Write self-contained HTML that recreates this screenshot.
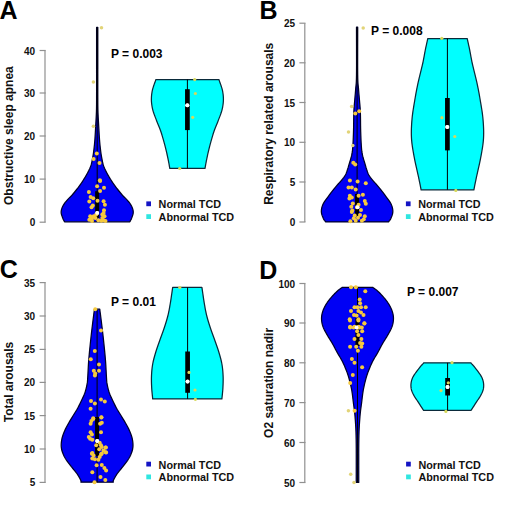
<!DOCTYPE html>
<html><head><meta charset="utf-8"><style>
html,body{margin:0;padding:0;background:#fff;width:520px;height:520px;overflow:hidden;}
svg{display:block;}
text{font-family:"Liberation Sans",sans-serif;font-weight:bold;}
</style></head><body><svg width="520" height="520" viewBox="0 0 520 520"><path d="M97.80,27.30 L97.80,31.37 L97.80,35.42 L97.80,39.46 L97.80,43.51 L97.80,47.57 L97.80,51.66 L97.80,55.80 L97.80,60.00 L97.80,64.39 L97.80,69.03 L97.79,73.79 L97.79,78.54 L97.79,83.17 L97.79,87.53 L97.79,91.52 L97.80,95.00 L97.81,97.92 L97.81,100.38 L97.82,102.48 L97.83,104.31 L97.85,105.98 L97.87,107.59 L97.90,109.23 L97.95,111.00 L98.01,112.84 L98.08,114.62 L98.16,116.35 L98.25,118.06 L98.35,119.76 L98.45,121.48 L98.55,123.22 L98.65,125.00 L98.75,126.86 L98.86,128.80 L98.97,130.77 L99.08,132.75 L99.20,134.70 L99.31,136.58 L99.43,138.36 L99.55,140.00 L99.67,141.51 L99.79,142.91 L99.91,144.23 L100.04,145.48 L100.16,146.67 L100.29,147.81 L100.42,148.91 L100.55,150.00 L100.68,151.03 L100.80,151.98 L100.92,152.87 L101.04,153.73 L101.17,154.58 L101.31,155.44 L101.47,156.34 L101.65,157.30 L101.84,158.32 L102.04,159.38 L102.24,160.46 L102.46,161.57 L102.71,162.68 L102.98,163.80 L103.29,164.91 L103.65,166.00 L104.05,167.08 L104.50,168.16 L104.99,169.24 L105.50,170.32 L106.04,171.39 L106.60,172.47 L107.17,173.54 L107.75,174.60 L108.35,175.68 L108.99,176.77 L109.65,177.87 L110.33,178.96 L111.01,180.03 L111.68,181.07 L112.33,182.07 L112.95,183.00 L113.53,183.86 L114.09,184.67 L114.64,185.43 L115.17,186.15 L115.70,186.86 L116.23,187.56 L116.78,188.27 L117.35,189.00 L117.93,189.75 L118.52,190.50 L119.12,191.26 L119.73,192.01 L120.34,192.76 L120.96,193.51 L121.60,194.26 L122.25,195.00 L122.93,195.74 L123.64,196.47 L124.37,197.19 L125.11,197.92 L125.84,198.64 L126.55,199.36 L127.23,200.08 L127.85,200.80 L128.44,201.52 L129.00,202.23 L129.54,202.94 L130.06,203.65 L130.54,204.36 L130.98,205.07 L131.39,205.78 L131.75,206.50 L132.07,207.22 L132.37,207.94 L132.62,208.67 L132.84,209.39 L133.02,210.12 L133.15,210.85 L133.23,211.57 L133.25,212.30 L133.20,213.04 L133.07,213.80 L132.89,214.57 L132.66,215.33 L132.40,216.08 L132.14,216.80 L131.88,217.48 L131.65,218.10 L131.43,218.66 L131.21,219.17 L130.99,219.64 L130.76,220.08 L130.53,220.50 L130.30,220.92 L130.08,221.35 L129.85,221.80 L64.55,221.80 L64.32,221.35 L64.10,220.92 L63.87,220.50 L63.64,220.08 L63.41,219.64 L63.19,219.17 L62.97,218.66 L62.75,218.10 L62.52,217.48 L62.26,216.80 L62.00,216.08 L61.74,215.33 L61.51,214.57 L61.33,213.80 L61.20,213.04 L61.15,212.30 L61.17,211.57 L61.25,210.85 L61.38,210.12 L61.56,209.39 L61.78,208.67 L62.03,207.94 L62.33,207.22 L62.65,206.50 L63.01,205.78 L63.42,205.07 L63.86,204.36 L64.34,203.65 L64.86,202.94 L65.40,202.23 L65.96,201.52 L66.55,200.80 L67.17,200.08 L67.85,199.36 L68.56,198.64 L69.29,197.92 L70.03,197.19 L70.76,196.47 L71.47,195.74 L72.15,195.00 L72.80,194.26 L73.44,193.51 L74.06,192.76 L74.67,192.01 L75.28,191.26 L75.88,190.50 L76.47,189.75 L77.05,189.00 L77.62,188.27 L78.17,187.56 L78.70,186.86 L79.23,186.15 L79.76,185.43 L80.31,184.67 L80.87,183.86 L81.45,183.00 L82.07,182.07 L82.72,181.07 L83.39,180.03 L84.07,178.96 L84.75,177.87 L85.41,176.77 L86.05,175.68 L86.65,174.60 L87.23,173.54 L87.80,172.47 L88.36,171.39 L88.90,170.32 L89.41,169.24 L89.90,168.16 L90.35,167.08 L90.75,166.00 L91.11,164.91 L91.42,163.80 L91.69,162.68 L91.94,161.57 L92.16,160.46 L92.36,159.38 L92.56,158.32 L92.75,157.30 L92.93,156.34 L93.09,155.44 L93.23,154.58 L93.36,153.73 L93.48,152.87 L93.60,151.98 L93.72,151.03 L93.85,150.00 L93.98,148.91 L94.11,147.81 L94.24,146.67 L94.36,145.48 L94.49,144.23 L94.61,142.91 L94.73,141.51 L94.85,140.00 L94.97,138.36 L95.09,136.58 L95.20,134.70 L95.32,132.75 L95.43,130.77 L95.54,128.80 L95.65,126.86 L95.75,125.00 L95.85,123.22 L95.95,121.48 L96.05,119.76 L96.15,118.06 L96.24,116.35 L96.32,114.62 L96.39,112.84 L96.45,111.00 L96.50,109.23 L96.53,107.59 L96.55,105.98 L96.57,104.31 L96.58,102.48 L96.59,100.38 L96.59,97.92 L96.60,95.00 L96.61,91.52 L96.61,87.53 L96.61,83.17 L96.61,78.54 L96.61,73.79 L96.60,69.03 L96.60,64.39 L96.60,60.00 L96.60,55.80 L96.60,51.66 L96.60,47.57 L96.60,43.51 L96.60,39.46 L96.60,35.42 L96.60,31.37 L96.60,27.30 Z" fill="#0000f5" stroke="#00002a" stroke-width="1.25" stroke-linejoin="round"/><path d="M218.90,79.50 L219.35,80.84 L219.83,82.19 L220.32,83.54 L220.81,84.89 L221.27,86.24 L221.70,87.57 L222.08,88.90 L222.40,90.20 L222.66,91.48 L222.88,92.75 L223.07,94.00 L223.21,95.24 L223.32,96.47 L223.38,97.71 L223.41,98.95 L223.40,100.20 L223.35,101.46 L223.25,102.72 L223.11,103.98 L222.94,105.24 L222.73,106.51 L222.48,107.77 L222.21,109.04 L221.90,110.30 L221.55,111.56 L221.16,112.83 L220.72,114.09 L220.26,115.35 L219.77,116.61 L219.28,117.87 L218.78,119.14 L218.30,120.40 L217.81,121.66 L217.31,122.93 L216.79,124.19 L216.27,125.45 L215.75,126.71 L215.25,127.98 L214.76,129.24 L214.30,130.50 L213.87,131.76 L213.45,133.03 L213.05,134.29 L212.66,135.56 L212.29,136.82 L211.92,138.08 L211.56,139.34 L211.20,140.60 L210.85,141.85 L210.51,143.10 L210.17,144.35 L209.84,145.60 L209.52,146.85 L209.21,148.10 L208.90,149.35 L208.60,150.60 L208.30,151.87 L208.00,153.17 L207.71,154.49 L207.42,155.79 L207.15,157.08 L206.88,158.34 L206.63,159.55 L206.40,160.70 L206.19,161.78 L205.99,162.79 L205.82,163.76 L205.65,164.70 L205.49,165.62 L205.33,166.53 L205.17,167.45 L205.00,168.40 L169.80,168.40 L169.63,167.45 L169.47,166.53 L169.31,165.62 L169.15,164.70 L168.98,163.76 L168.81,162.79 L168.61,161.78 L168.40,160.70 L168.17,159.55 L167.92,158.34 L167.65,157.08 L167.38,155.79 L167.09,154.49 L166.80,153.17 L166.50,151.87 L166.20,150.60 L165.90,149.35 L165.59,148.10 L165.28,146.85 L164.96,145.60 L164.63,144.35 L164.29,143.10 L163.95,141.85 L163.60,140.60 L163.24,139.34 L162.88,138.08 L162.51,136.82 L162.14,135.56 L161.75,134.29 L161.35,133.03 L160.93,131.76 L160.50,130.50 L160.04,129.24 L159.55,127.98 L159.05,126.71 L158.53,125.45 L158.01,124.19 L157.49,122.93 L156.99,121.66 L156.50,120.40 L156.02,119.14 L155.52,117.87 L155.03,116.61 L154.54,115.35 L154.08,114.09 L153.64,112.83 L153.25,111.56 L152.90,110.30 L152.59,109.04 L152.32,107.77 L152.07,106.51 L151.86,105.24 L151.69,103.98 L151.55,102.72 L151.45,101.46 L151.40,100.20 L151.39,98.95 L151.42,97.71 L151.48,96.47 L151.59,95.24 L151.73,94.00 L151.92,92.75 L152.14,91.48 L152.40,90.20 L152.72,88.90 L153.10,87.57 L153.53,86.24 L153.99,84.89 L154.48,83.54 L154.97,82.19 L155.45,80.84 L155.90,79.50 Z" fill="#00ffff" stroke="#0a2a3a" stroke-width="1.25" stroke-linejoin="round"/><line x1="97.2" y1="27.5" x2="97.2" y2="221.8" stroke="#000" stroke-width="1"/><rect x="95.15" y="191.2" width="4.1" height="26.80000000000001" fill="#000"/><circle cx="97.2" cy="212.9" r="2" fill="#fff"/><line x1="187.4" y1="79.5" x2="187.4" y2="168.4" stroke="#000" stroke-width="1"/><rect x="185.05" y="89.2" width="4.7" height="40.89999999999999" fill="#000"/><circle cx="187.4" cy="105.3" r="2" fill="#fff"/><line x1="45" y1="50.5" x2="45" y2="222.2" stroke="#909090" stroke-width="1.2"/><line x1="39.6" y1="222.2" x2="45.7" y2="222.2" stroke="#909090" stroke-width="1.2"/><text x="35.2" y="226.2" text-anchor="end" font-size="10" font-family="Liberation Sans, sans-serif" font-weight="bold" fill="#111">0</text><line x1="39.6" y1="179.1" x2="45.7" y2="179.1" stroke="#909090" stroke-width="1.2"/><text x="35.2" y="183.1" text-anchor="end" font-size="10" font-family="Liberation Sans, sans-serif" font-weight="bold" fill="#111">10</text><line x1="39.6" y1="136" x2="45.7" y2="136" stroke="#909090" stroke-width="1.2"/><text x="35.2" y="140.0" text-anchor="end" font-size="10" font-family="Liberation Sans, sans-serif" font-weight="bold" fill="#111">20</text><line x1="39.6" y1="93" x2="45.7" y2="93" stroke="#909090" stroke-width="1.2"/><text x="35.2" y="97.0" text-anchor="end" font-size="10" font-family="Liberation Sans, sans-serif" font-weight="bold" fill="#111">30</text><line x1="39.6" y1="50.5" x2="45.7" y2="50.5" stroke="#909090" stroke-width="1.2"/><text x="35.2" y="54.5" text-anchor="end" font-size="10" font-family="Liberation Sans, sans-serif" font-weight="bold" fill="#111">40</text><text transform="translate(13.4,135.6) rotate(-90)" text-anchor="middle" font-size="12" font-family="Liberation Sans, sans-serif" font-weight="bold" fill="#111">Obstructive sleep apnea</text><text x="-0.5" y="18.6" font-size="25" font-family="Liberation Sans, sans-serif" font-weight="bold" fill="#000">A</text><text x="111" y="58" font-size="12" font-family="Liberation Sans, sans-serif" font-weight="bold" fill="#000">P = 0.003</text><rect x="146.3" y="201.4" width="4.7" height="4.8" fill="#1414c4"/><rect x="146.3" y="214.2" width="4.7" height="4.8" fill="#30e6e0"/><text x="158.6" y="208.4" font-size="10.8" font-family="Liberation Sans, sans-serif" font-weight="bold" fill="#111">Normal TCD</text><text x="158.6" y="221.1" font-size="10.8" font-family="Liberation Sans, sans-serif" font-weight="bold" fill="#111">Abnormal TCD</text><path d="M357.70,27.20 L357.69,33.40 L357.68,39.94 L357.66,46.60 L357.65,53.20 L357.64,59.54 L357.64,65.41 L357.66,70.63 L357.70,75.00 L357.77,78.41 L357.85,80.99 L357.95,82.94 L358.07,84.41 L358.19,85.60 L358.31,86.68 L358.44,87.82 L358.55,89.20 L358.66,90.70 L358.77,92.11 L358.88,93.45 L359.00,94.74 L359.11,96.01 L359.22,97.30 L359.34,98.62 L359.45,100.00 L359.57,101.40 L359.69,102.77 L359.81,104.15 L359.94,105.55 L360.06,107.01 L360.17,108.55 L360.27,110.20 L360.35,112.00 L360.41,113.99 L360.46,116.16 L360.49,118.47 L360.52,120.85 L360.54,123.25 L360.57,125.61 L360.60,127.88 L360.65,130.00 L360.71,132.01 L360.77,133.97 L360.84,135.87 L360.91,137.73 L360.98,139.51 L361.06,141.22 L361.15,142.85 L361.25,144.40 L361.34,145.83 L361.43,147.14 L361.52,148.35 L361.62,149.49 L361.73,150.60 L361.87,151.71 L362.04,152.83 L362.25,154.00 L362.51,155.23 L362.82,156.50 L363.17,157.78 L363.54,159.06 L363.92,160.31 L364.29,161.51 L364.64,162.65 L364.95,163.70 L365.23,164.66 L365.48,165.54 L365.72,166.37 L365.94,167.14 L366.17,167.88 L366.39,168.60 L366.61,169.30 L366.85,170.00 L367.08,170.69 L367.31,171.34 L367.52,171.97 L367.74,172.58 L367.98,173.18 L368.24,173.78 L368.52,174.38 L368.85,175.00 L369.22,175.63 L369.63,176.26 L370.06,176.89 L370.52,177.53 L370.99,178.15 L371.48,178.78 L371.97,179.39 L372.45,180.00 L372.94,180.59 L373.44,181.17 L373.95,181.74 L374.47,182.31 L374.99,182.87 L375.51,183.44 L376.03,184.01 L376.55,184.60 L377.07,185.20 L377.59,185.81 L378.11,186.42 L378.63,187.04 L379.15,187.66 L379.66,188.28 L380.16,188.90 L380.65,189.50 L381.10,190.06 L381.51,190.57 L381.90,191.06 L382.29,191.56 L382.69,192.09 L383.14,192.69 L383.66,193.38 L384.25,194.20 L384.97,195.18 L385.82,196.30 L386.75,197.52 L387.71,198.81 L388.65,200.12 L389.54,201.42 L390.32,202.66 L390.95,203.80 L391.44,204.86 L391.85,205.88 L392.18,206.87 L392.44,207.82 L392.63,208.76 L392.75,209.68 L392.83,210.59 L392.85,211.50 L392.80,212.41 L392.65,213.34 L392.44,214.26 L392.17,215.16 L391.87,216.02 L391.55,216.85 L391.24,217.61 L390.95,218.30 L390.67,218.90 L390.39,219.43 L390.09,219.88 L389.78,220.30 L389.47,220.69 L389.16,221.08 L388.85,221.47 L388.55,221.90 L325.65,221.90 L325.35,221.47 L325.04,221.08 L324.73,220.69 L324.42,220.30 L324.11,219.88 L323.81,219.43 L323.53,218.90 L323.25,218.30 L322.96,217.61 L322.65,216.85 L322.33,216.02 L322.03,215.16 L321.76,214.26 L321.55,213.34 L321.40,212.41 L321.35,211.50 L321.37,210.59 L321.45,209.68 L321.57,208.76 L321.76,207.82 L322.02,206.87 L322.35,205.88 L322.76,204.86 L323.25,203.80 L323.88,202.66 L324.66,201.42 L325.55,200.12 L326.49,198.81 L327.45,197.52 L328.38,196.30 L329.23,195.18 L329.95,194.20 L330.54,193.38 L331.06,192.69 L331.51,192.09 L331.91,191.56 L332.30,191.06 L332.69,190.57 L333.10,190.06 L333.55,189.50 L334.04,188.90 L334.54,188.28 L335.05,187.66 L335.57,187.04 L336.09,186.42 L336.61,185.81 L337.13,185.20 L337.65,184.60 L338.17,184.01 L338.69,183.44 L339.21,182.87 L339.73,182.31 L340.25,181.74 L340.76,181.17 L341.26,180.59 L341.75,180.00 L342.23,179.39 L342.72,178.78 L343.21,178.15 L343.68,177.53 L344.14,176.89 L344.57,176.26 L344.98,175.63 L345.35,175.00 L345.68,174.38 L345.96,173.78 L346.22,173.18 L346.46,172.58 L346.68,171.97 L346.89,171.34 L347.12,170.69 L347.35,170.00 L347.59,169.30 L347.81,168.60 L348.03,167.88 L348.26,167.14 L348.48,166.37 L348.72,165.54 L348.97,164.66 L349.25,163.70 L349.56,162.65 L349.91,161.51 L350.28,160.31 L350.66,159.06 L351.03,157.78 L351.38,156.50 L351.69,155.23 L351.95,154.00 L352.16,152.83 L352.33,151.71 L352.47,150.60 L352.58,149.49 L352.68,148.35 L352.77,147.14 L352.86,145.83 L352.95,144.40 L353.05,142.85 L353.14,141.22 L353.22,139.51 L353.29,137.73 L353.36,135.87 L353.43,133.97 L353.49,132.01 L353.55,130.00 L353.60,127.88 L353.63,125.61 L353.66,123.25 L353.68,120.85 L353.71,118.47 L353.74,116.16 L353.79,113.99 L353.85,112.00 L353.93,110.20 L354.03,108.55 L354.14,107.01 L354.26,105.55 L354.39,104.15 L354.51,102.77 L354.63,101.40 L354.75,100.00 L354.86,98.62 L354.98,97.30 L355.09,96.01 L355.20,94.74 L355.32,93.45 L355.43,92.11 L355.54,90.70 L355.65,89.20 L355.76,87.82 L355.89,86.68 L356.01,85.60 L356.13,84.41 L356.25,82.94 L356.35,80.99 L356.43,78.41 L356.50,75.00 L356.54,70.63 L356.56,65.41 L356.56,59.54 L356.55,53.20 L356.54,46.60 L356.52,39.94 L356.51,33.40 L356.50,27.20 Z" fill="#0000f5" stroke="#00002a" stroke-width="1.25" stroke-linejoin="round"/><path d="M467.20,38.50 L467.51,39.92 L467.82,41.33 L468.13,42.72 L468.44,44.12 L468.76,45.54 L469.07,46.98 L469.38,48.47 L469.70,50.00 L470.01,51.55 L470.30,53.10 L470.58,54.67 L470.87,56.27 L471.17,57.93 L471.51,59.68 L471.88,61.53 L472.30,63.50 L472.79,65.64 L473.34,67.94 L473.94,70.37 L474.56,72.86 L475.18,75.39 L475.79,77.90 L476.37,80.35 L476.90,82.70 L477.38,84.94 L477.83,87.11 L478.25,89.24 L478.66,91.35 L479.06,93.46 L479.44,95.59 L479.82,97.76 L480.20,100.00 L480.59,102.31 L480.99,104.66 L481.39,107.06 L481.78,109.48 L482.14,111.91 L482.47,114.35 L482.76,116.78 L483.00,119.20 L483.20,121.61 L483.36,124.02 L483.50,126.43 L483.60,128.85 L483.66,131.27 L483.66,133.68 L483.61,136.09 L483.50,138.50 L483.32,140.90 L483.06,143.31 L482.75,145.71 L482.39,148.11 L482.00,150.50 L481.58,152.90 L481.14,155.30 L480.70,157.70 L480.23,160.14 L479.71,162.65 L479.16,165.18 L478.59,167.69 L478.02,170.16 L477.47,172.54 L476.96,174.80 L476.50,176.90 L476.10,178.81 L475.74,180.57 L475.41,182.20 L475.10,183.74 L474.80,185.24 L474.51,186.72 L474.21,188.23 L473.90,189.80 L421.10,189.80 L420.79,188.23 L420.49,186.72 L420.20,185.24 L419.90,183.74 L419.59,182.20 L419.26,180.57 L418.90,178.81 L418.50,176.90 L418.04,174.80 L417.53,172.54 L416.98,170.16 L416.41,167.69 L415.84,165.18 L415.29,162.65 L414.77,160.14 L414.30,157.70 L413.86,155.30 L413.42,152.90 L413.00,150.50 L412.61,148.11 L412.25,145.71 L411.94,143.31 L411.68,140.90 L411.50,138.50 L411.39,136.09 L411.34,133.68 L411.34,131.27 L411.40,128.85 L411.50,126.43 L411.64,124.02 L411.80,121.61 L412.00,119.20 L412.24,116.78 L412.53,114.35 L412.86,111.91 L413.22,109.48 L413.61,107.06 L414.01,104.66 L414.41,102.31 L414.80,100.00 L415.18,97.76 L415.56,95.59 L415.94,93.46 L416.34,91.35 L416.75,89.24 L417.17,87.11 L417.62,84.94 L418.10,82.70 L418.63,80.35 L419.21,77.90 L419.82,75.39 L420.44,72.86 L421.06,70.37 L421.66,67.94 L422.21,65.64 L422.70,63.50 L423.12,61.53 L423.49,59.68 L423.83,57.93 L424.13,56.27 L424.42,54.67 L424.70,53.10 L424.99,51.55 L425.30,50.00 L425.62,48.47 L425.93,46.98 L426.24,45.54 L426.56,44.12 L426.87,42.72 L427.18,41.33 L427.49,39.92 L427.80,38.50 Z" fill="#00ffff" stroke="#0a2a3a" stroke-width="1.25" stroke-linejoin="round"/><line x1="357.1" y1="27.3" x2="357.1" y2="221.8" stroke="#000" stroke-width="1"/><rect x="355.05" y="194" width="4.1" height="23" fill="#000"/><circle cx="357.1" cy="207.2" r="2" fill="#fff"/><line x1="447.4" y1="38.5" x2="447.4" y2="189.8" stroke="#000" stroke-width="1"/><rect x="445.04999999999995" y="98" width="4.7" height="52.400000000000006" fill="#000"/><circle cx="447.4" cy="126.9" r="2" fill="#fff"/><line x1="304.8" y1="23.2" x2="304.8" y2="222" stroke="#909090" stroke-width="1.2"/><line x1="299.40000000000003" y1="222" x2="305.5" y2="222" stroke="#909090" stroke-width="1.2"/><text x="295.2" y="226.0" text-anchor="end" font-size="10" font-family="Liberation Sans, sans-serif" font-weight="bold" fill="#111">0</text><line x1="299.40000000000003" y1="182" x2="305.5" y2="182" stroke="#909090" stroke-width="1.2"/><text x="295.2" y="186.0" text-anchor="end" font-size="10" font-family="Liberation Sans, sans-serif" font-weight="bold" fill="#111">5</text><line x1="299.40000000000003" y1="142.3" x2="305.5" y2="142.3" stroke="#909090" stroke-width="1.2"/><text x="295.2" y="146.3" text-anchor="end" font-size="10" font-family="Liberation Sans, sans-serif" font-weight="bold" fill="#111">10</text><line x1="299.40000000000003" y1="102.5" x2="305.5" y2="102.5" stroke="#909090" stroke-width="1.2"/><text x="295.2" y="106.5" text-anchor="end" font-size="10" font-family="Liberation Sans, sans-serif" font-weight="bold" fill="#111">15</text><line x1="299.40000000000003" y1="62.8" x2="305.5" y2="62.8" stroke="#909090" stroke-width="1.2"/><text x="295.2" y="66.8" text-anchor="end" font-size="10" font-family="Liberation Sans, sans-serif" font-weight="bold" fill="#111">20</text><line x1="299.40000000000003" y1="23.2" x2="305.5" y2="23.2" stroke="#909090" stroke-width="1.2"/><text x="295.2" y="27.2" text-anchor="end" font-size="10" font-family="Liberation Sans, sans-serif" font-weight="bold" fill="#111">25</text><text transform="translate(273.0,123.8) rotate(-90)" text-anchor="middle" font-size="12" font-family="Liberation Sans, sans-serif" font-weight="bold" fill="#111">Respiratory related arousals</text><text x="259.4" y="18.5" font-size="25" font-family="Liberation Sans, sans-serif" font-weight="bold" fill="#000">B</text><text x="371.1" y="34.7" font-size="12" font-family="Liberation Sans, sans-serif" font-weight="bold" fill="#000">P = 0.008</text><rect x="405.90000000000003" y="201.4" width="4.7" height="4.8" fill="#1414c4"/><rect x="405.90000000000003" y="214.2" width="4.7" height="4.8" fill="#30e6e0"/><text x="418.20000000000005" y="208.4" font-size="10.8" font-family="Liberation Sans, sans-serif" font-weight="bold" fill="#111">Normal TCD</text><text x="418.20000000000005" y="221.1" font-size="10.8" font-family="Liberation Sans, sans-serif" font-weight="bold" fill="#111">Abnormal TCD</text><path d="M99.75,309.20 L99.92,310.50 L100.08,311.72 L100.24,312.91 L100.40,314.12 L100.57,315.39 L100.74,316.76 L100.94,318.28 L101.15,320.00 L101.39,321.92 L101.65,324.01 L101.92,326.24 L102.21,328.58 L102.50,331.00 L102.79,333.48 L103.07,335.99 L103.35,338.50 L103.62,341.07 L103.91,343.77 L104.19,346.54 L104.47,349.34 L104.75,352.14 L105.00,354.87 L105.24,357.51 L105.45,360.00 L105.63,362.41 L105.79,364.81 L105.92,367.16 L106.04,369.43 L106.15,371.58 L106.25,373.58 L106.35,375.40 L106.45,377.00 L106.53,378.32 L106.59,379.35 L106.64,380.18 L106.68,380.88 L106.73,381.50 L106.80,382.13 L106.91,382.84 L107.05,383.70 L107.23,384.69 L107.44,385.74 L107.67,386.83 L107.93,387.94 L108.21,389.06 L108.51,390.17 L108.82,391.26 L109.15,392.30 L109.50,393.30 L109.87,394.28 L110.26,395.23 L110.67,396.18 L111.10,397.12 L111.54,398.06 L111.99,399.02 L112.45,400.00 L112.92,401.00 L113.40,402.02 L113.89,403.04 L114.40,404.08 L114.92,405.11 L115.45,406.15 L115.99,407.18 L116.55,408.20 L117.12,409.22 L117.72,410.23 L118.33,411.24 L118.95,412.25 L119.58,413.26 L120.21,414.27 L120.83,415.28 L121.45,416.30 L122.07,417.32 L122.70,418.34 L123.33,419.37 L123.96,420.39 L124.58,421.42 L125.19,422.45 L125.78,423.47 L126.35,424.50 L126.90,425.53 L127.45,426.55 L127.99,427.58 L128.51,428.61 L129.01,429.63 L129.49,430.66 L129.94,431.68 L130.35,432.70 L130.73,433.72 L131.10,434.73 L131.44,435.74 L131.75,436.75 L132.03,437.76 L132.28,438.77 L132.48,439.78 L132.65,440.80 L132.78,441.82 L132.88,442.84 L132.95,443.87 L132.99,444.89 L132.98,445.92 L132.92,446.95 L132.81,447.97 L132.65,449.00 L132.43,450.02 L132.15,451.05 L131.83,452.07 L131.46,453.10 L131.04,454.12 L130.58,455.15 L130.08,456.18 L129.55,457.20 L128.97,458.23 L128.33,459.25 L127.64,460.28 L126.91,461.31 L126.16,462.33 L125.39,463.36 L124.62,464.38 L123.85,465.40 L123.06,466.43 L122.22,467.47 L121.35,468.52 L120.48,469.56 L119.62,470.58 L118.80,471.59 L118.04,472.56 L117.35,473.50 L116.72,474.42 L116.13,475.34 L115.57,476.24 L115.06,477.12 L114.60,477.95 L114.19,478.71 L113.84,479.40 L113.55,480.00 L113.35,480.48 L113.23,480.85 L113.18,481.14 L113.18,481.37 L113.21,481.56 L113.24,481.75 L113.26,481.95 L113.25,482.20 L80.95,482.20 L80.94,481.95 L80.96,481.75 L80.99,481.56 L81.02,481.37 L81.02,481.14 L80.97,480.85 L80.85,480.48 L80.65,480.00 L80.36,479.40 L80.01,478.71 L79.60,477.95 L79.14,477.12 L78.63,476.24 L78.07,475.34 L77.48,474.42 L76.85,473.50 L76.16,472.56 L75.40,471.59 L74.58,470.58 L73.72,469.56 L72.85,468.52 L71.98,467.47 L71.14,466.43 L70.35,465.40 L69.58,464.38 L68.81,463.36 L68.04,462.33 L67.29,461.31 L66.56,460.28 L65.87,459.25 L65.23,458.23 L64.65,457.20 L64.12,456.18 L63.62,455.15 L63.16,454.12 L62.74,453.10 L62.37,452.07 L62.05,451.05 L61.77,450.02 L61.55,449.00 L61.39,447.97 L61.28,446.95 L61.22,445.92 L61.21,444.89 L61.25,443.87 L61.32,442.84 L61.42,441.82 L61.55,440.80 L61.72,439.78 L61.92,438.77 L62.17,437.76 L62.45,436.75 L62.76,435.74 L63.10,434.73 L63.47,433.72 L63.85,432.70 L64.26,431.68 L64.71,430.66 L65.19,429.63 L65.69,428.61 L66.21,427.58 L66.75,426.55 L67.30,425.53 L67.85,424.50 L68.42,423.47 L69.01,422.45 L69.62,421.42 L70.24,420.39 L70.87,419.37 L71.50,418.34 L72.13,417.32 L72.75,416.30 L73.37,415.28 L73.99,414.27 L74.62,413.26 L75.25,412.25 L75.87,411.24 L76.48,410.23 L77.08,409.22 L77.65,408.20 L78.21,407.18 L78.75,406.15 L79.28,405.11 L79.80,404.08 L80.31,403.04 L80.80,402.02 L81.28,401.00 L81.75,400.00 L82.21,399.02 L82.66,398.06 L83.10,397.12 L83.53,396.18 L83.94,395.23 L84.33,394.28 L84.70,393.30 L85.05,392.30 L85.38,391.26 L85.69,390.17 L85.99,389.06 L86.27,387.94 L86.53,386.83 L86.76,385.74 L86.97,384.69 L87.15,383.70 L87.29,382.84 L87.40,382.13 L87.47,381.50 L87.52,380.88 L87.56,380.18 L87.61,379.35 L87.67,378.32 L87.75,377.00 L87.85,375.40 L87.95,373.58 L88.05,371.58 L88.16,369.43 L88.28,367.16 L88.41,364.81 L88.57,362.41 L88.75,360.00 L88.96,357.51 L89.20,354.87 L89.45,352.14 L89.72,349.34 L90.01,346.54 L90.29,343.77 L90.58,341.07 L90.85,338.50 L91.13,335.99 L91.41,333.48 L91.70,331.00 L91.99,328.58 L92.28,326.24 L92.55,324.01 L92.81,321.92 L93.05,320.00 L93.26,318.28 L93.46,316.76 L93.63,315.39 L93.80,314.12 L93.96,312.91 L94.12,311.72 L94.28,310.50 L94.45,309.20 Z" fill="#0000f5" stroke="#00002a" stroke-width="1.25" stroke-linejoin="round"/><path d="M201.90,287.30 L202.21,289.42 L202.53,291.59 L202.84,293.77 L203.16,295.94 L203.47,298.08 L203.78,300.16 L204.09,302.14 L204.40,304.00 L204.70,305.72 L204.98,307.33 L205.25,308.84 L205.53,310.29 L205.82,311.71 L206.12,313.11 L206.44,314.53 L206.80,316.00 L207.19,317.50 L207.60,319.00 L208.03,320.50 L208.48,322.00 L208.95,323.50 L209.42,325.00 L209.91,326.50 L210.40,328.00 L210.91,329.50 L211.43,331.00 L211.97,332.50 L212.52,334.00 L213.07,335.50 L213.62,337.00 L214.17,338.50 L214.70,340.00 L215.23,341.50 L215.76,343.00 L216.30,344.50 L216.82,346.00 L217.34,347.50 L217.85,349.00 L218.34,350.50 L218.80,352.00 L219.25,353.50 L219.69,355.00 L220.12,356.50 L220.53,358.00 L220.92,359.50 L221.28,361.00 L221.61,362.50 L221.90,364.00 L222.15,365.50 L222.37,367.00 L222.55,368.50 L222.71,370.00 L222.84,371.50 L222.94,373.00 L223.03,374.50 L223.10,376.00 L223.15,377.51 L223.17,379.03 L223.16,380.55 L223.14,382.07 L223.10,383.58 L223.04,385.08 L222.97,386.55 L222.90,388.00 L222.81,389.42 L222.71,390.80 L222.58,392.17 L222.45,393.52 L222.31,394.86 L222.17,396.20 L222.03,397.55 L221.90,398.90 L152.70,398.90 L152.57,397.55 L152.43,396.20 L152.29,394.86 L152.15,393.52 L152.02,392.17 L151.89,390.80 L151.79,389.42 L151.70,388.00 L151.63,386.55 L151.56,385.08 L151.50,383.58 L151.46,382.07 L151.44,380.55 L151.43,379.03 L151.45,377.51 L151.50,376.00 L151.57,374.50 L151.66,373.00 L151.76,371.50 L151.89,370.00 L152.05,368.50 L152.23,367.00 L152.45,365.50 L152.70,364.00 L152.99,362.50 L153.32,361.00 L153.68,359.50 L154.07,358.00 L154.48,356.50 L154.91,355.00 L155.35,353.50 L155.80,352.00 L156.26,350.50 L156.75,349.00 L157.26,347.50 L157.78,346.00 L158.30,344.50 L158.84,343.00 L159.37,341.50 L159.90,340.00 L160.43,338.50 L160.98,337.00 L161.53,335.50 L162.08,334.00 L162.63,332.50 L163.17,331.00 L163.69,329.50 L164.20,328.00 L164.69,326.50 L165.18,325.00 L165.65,323.50 L166.12,322.00 L166.57,320.50 L167.00,319.00 L167.41,317.50 L167.80,316.00 L168.16,314.53 L168.48,313.11 L168.78,311.71 L169.07,310.29 L169.35,308.84 L169.62,307.33 L169.90,305.72 L170.20,304.00 L170.51,302.14 L170.82,300.16 L171.13,298.08 L171.44,295.94 L171.76,293.77 L172.07,291.59 L172.39,289.42 L172.70,287.30 Z" fill="#00ffff" stroke="#0a2a3a" stroke-width="1.25" stroke-linejoin="round"/><line x1="97.1" y1="309.2" x2="97.1" y2="482.2" stroke="#000" stroke-width="1"/><rect x="95.05" y="417" width="4.1" height="39" fill="#000"/><circle cx="97.1" cy="441" r="2" fill="#fff"/><line x1="187.6" y1="287.3" x2="187.6" y2="398.9" stroke="#000" stroke-width="1"/><rect x="185.25" y="351.5" width="4.7" height="41.30000000000001" fill="#000"/><circle cx="187.6" cy="381.6" r="2" fill="#fff"/><line x1="45" y1="282.6" x2="45" y2="482.4" stroke="#909090" stroke-width="1.2"/><line x1="39.6" y1="482.4" x2="45.7" y2="482.4" stroke="#909090" stroke-width="1.2"/><text x="35.2" y="486.4" text-anchor="end" font-size="10" font-family="Liberation Sans, sans-serif" font-weight="bold" fill="#111">5</text><line x1="39.6" y1="449" x2="45.7" y2="449" stroke="#909090" stroke-width="1.2"/><text x="35.2" y="453.0" text-anchor="end" font-size="10" font-family="Liberation Sans, sans-serif" font-weight="bold" fill="#111">10</text><line x1="39.6" y1="415.6" x2="45.7" y2="415.6" stroke="#909090" stroke-width="1.2"/><text x="35.2" y="419.6" text-anchor="end" font-size="10" font-family="Liberation Sans, sans-serif" font-weight="bold" fill="#111">15</text><line x1="39.6" y1="382.4" x2="45.7" y2="382.4" stroke="#909090" stroke-width="1.2"/><text x="35.2" y="386.4" text-anchor="end" font-size="10" font-family="Liberation Sans, sans-serif" font-weight="bold" fill="#111">20</text><line x1="39.6" y1="349.4" x2="45.7" y2="349.4" stroke="#909090" stroke-width="1.2"/><text x="35.2" y="353.4" text-anchor="end" font-size="10" font-family="Liberation Sans, sans-serif" font-weight="bold" fill="#111">25</text><line x1="39.6" y1="316" x2="45.7" y2="316" stroke="#909090" stroke-width="1.2"/><text x="35.2" y="320.0" text-anchor="end" font-size="10" font-family="Liberation Sans, sans-serif" font-weight="bold" fill="#111">30</text><line x1="39.6" y1="282.6" x2="45.7" y2="282.6" stroke="#909090" stroke-width="1.2"/><text x="35.2" y="286.6" text-anchor="end" font-size="10" font-family="Liberation Sans, sans-serif" font-weight="bold" fill="#111">35</text><text transform="translate(13.4,382.0) rotate(-90)" text-anchor="middle" font-size="12" font-family="Liberation Sans, sans-serif" font-weight="bold" fill="#111">Total arousals</text><text x="-0.2" y="278.2" font-size="25" font-family="Liberation Sans, sans-serif" font-weight="bold" fill="#000">C</text><text x="111" y="305.8" font-size="12" font-family="Liberation Sans, sans-serif" font-weight="bold" fill="#000">P = 0.01</text><rect x="146.3" y="461.70000000000005" width="4.7" height="4.8" fill="#1414c4"/><rect x="146.3" y="474.5" width="4.7" height="4.8" fill="#30e6e0"/><text x="158.6" y="468.70000000000005" font-size="10.8" font-family="Liberation Sans, sans-serif" font-weight="bold" fill="#111">Normal TCD</text><text x="158.6" y="481.4" font-size="10.8" font-family="Liberation Sans, sans-serif" font-weight="bold" fill="#111">Abnormal TCD</text><path d="M372.65,287.30 L373.35,287.82 L374.03,288.30 L374.70,288.77 L375.37,289.24 L376.06,289.74 L376.78,290.30 L377.54,290.95 L378.35,291.70 L379.24,292.57 L380.21,293.55 L381.24,294.61 L382.28,295.73 L383.32,296.88 L384.33,298.04 L385.29,299.19 L386.15,300.30 L386.95,301.38 L387.71,302.47 L388.43,303.56 L389.11,304.65 L389.74,305.74 L390.33,306.83 L390.87,307.92 L391.35,309.00 L391.78,310.08 L392.17,311.15 L392.51,312.23 L392.81,313.30 L393.05,314.37 L393.24,315.45 L393.37,316.52 L393.45,317.60 L393.47,318.68 L393.43,319.77 L393.34,320.86 L393.20,321.95 L393.01,323.04 L392.77,324.13 L392.48,325.22 L392.15,326.30 L391.76,327.38 L391.31,328.45 L390.80,329.53 L390.25,330.60 L389.67,331.67 L389.07,332.75 L388.46,333.82 L387.85,334.90 L387.23,335.98 L386.58,337.07 L385.91,338.15 L385.23,339.24 L384.54,340.33 L383.86,341.42 L383.19,342.51 L382.55,343.60 L381.94,344.70 L381.34,345.80 L380.76,346.90 L380.18,348.01 L379.61,349.11 L379.03,350.21 L378.45,351.31 L377.85,352.40 L377.23,353.49 L376.59,354.57 L375.94,355.64 L375.29,356.72 L374.65,357.79 L374.02,358.86 L373.42,359.93 L372.85,361.00 L372.31,362.07 L371.79,363.14 L371.29,364.22 L370.81,365.29 L370.35,366.35 L369.90,367.41 L369.47,368.46 L369.05,369.50 L368.65,370.49 L368.28,371.43 L367.93,372.34 L367.60,373.25 L367.27,374.19 L366.94,375.20 L366.60,376.29 L366.25,377.50 L365.88,378.85 L365.49,380.31 L365.10,381.86 L364.70,383.47 L364.32,385.11 L363.95,386.77 L363.61,388.41 L363.30,390.00 L363.03,391.55 L362.80,393.08 L362.59,394.61 L362.40,396.14 L362.22,397.68 L362.04,399.25 L361.85,400.85 L361.65,402.50 L361.44,404.15 L361.21,405.76 L360.99,407.38 L360.77,409.04 L360.55,410.78 L360.33,412.63 L360.13,414.62 L359.95,416.80 L359.78,419.05 L359.61,421.30 L359.45,423.61 L359.30,426.08 L359.16,428.78 L359.04,431.77 L358.94,435.16 L358.85,439.00 L358.79,443.41 L358.75,448.36 L358.74,453.72 L358.74,459.37 L358.74,465.19 L358.75,471.05 L358.76,476.83 L358.75,482.40 L356.25,482.40 L356.24,476.83 L356.25,471.05 L356.26,465.19 L356.26,459.37 L356.26,453.72 L356.25,448.36 L356.21,443.41 L356.15,439.00 L356.06,435.16 L355.96,431.77 L355.84,428.78 L355.70,426.08 L355.55,423.61 L355.39,421.30 L355.22,419.05 L355.05,416.80 L354.87,414.62 L354.67,412.63 L354.45,410.78 L354.23,409.04 L354.01,407.38 L353.79,405.76 L353.56,404.15 L353.35,402.50 L353.15,400.85 L352.96,399.25 L352.78,397.68 L352.60,396.14 L352.41,394.61 L352.20,393.08 L351.97,391.55 L351.70,390.00 L351.39,388.41 L351.05,386.77 L350.68,385.11 L350.30,383.47 L349.90,381.86 L349.51,380.31 L349.12,378.85 L348.75,377.50 L348.40,376.29 L348.06,375.20 L347.73,374.19 L347.40,373.25 L347.07,372.34 L346.72,371.43 L346.35,370.49 L345.95,369.50 L345.53,368.46 L345.10,367.41 L344.65,366.35 L344.19,365.29 L343.71,364.22 L343.21,363.14 L342.69,362.07 L342.15,361.00 L341.58,359.93 L340.98,358.86 L340.35,357.79 L339.71,356.72 L339.06,355.64 L338.41,354.57 L337.77,353.49 L337.15,352.40 L336.55,351.31 L335.97,350.21 L335.39,349.11 L334.82,348.01 L334.24,346.90 L333.66,345.80 L333.06,344.70 L332.45,343.60 L331.81,342.51 L331.14,341.42 L330.46,340.33 L329.77,339.24 L329.09,338.15 L328.42,337.07 L327.77,335.98 L327.15,334.90 L326.54,333.82 L325.93,332.75 L325.33,331.67 L324.75,330.60 L324.20,329.53 L323.69,328.45 L323.24,327.38 L322.85,326.30 L322.52,325.22 L322.23,324.13 L321.99,323.04 L321.80,321.95 L321.66,320.86 L321.57,319.77 L321.53,318.68 L321.55,317.60 L321.63,316.52 L321.76,315.45 L321.95,314.37 L322.19,313.30 L322.49,312.23 L322.83,311.15 L323.22,310.08 L323.65,309.00 L324.13,307.92 L324.67,306.83 L325.26,305.74 L325.89,304.65 L326.57,303.56 L327.29,302.47 L328.05,301.38 L328.85,300.30 L329.71,299.19 L330.67,298.04 L331.68,296.88 L332.72,295.73 L333.76,294.61 L334.79,293.55 L335.76,292.57 L336.65,291.70 L337.46,290.95 L338.22,290.30 L338.94,289.74 L339.63,289.24 L340.30,288.77 L340.97,288.30 L341.65,287.82 L342.35,287.30 Z" fill="#0000f5" stroke="#00002a" stroke-width="1.25" stroke-linejoin="round"/><path d="M470.70,362.80 L471.12,363.25 L471.52,363.68 L471.93,364.10 L472.33,364.52 L472.74,364.96 L473.17,365.43 L473.62,365.94 L474.10,366.50 L474.62,367.13 L475.17,367.80 L475.75,368.53 L476.34,369.28 L476.94,370.04 L477.52,370.81 L478.08,371.57 L478.60,372.30 L479.10,373.02 L479.59,373.73 L480.07,374.44 L480.54,375.15 L480.98,375.86 L481.39,376.57 L481.77,377.28 L482.10,378.00 L482.40,378.72 L482.66,379.44 L482.89,380.17 L483.09,380.89 L483.26,381.62 L483.41,382.35 L483.52,383.07 L483.60,383.80 L483.66,384.53 L483.68,385.25 L483.68,385.98 L483.65,386.70 L483.59,387.43 L483.49,388.15 L483.36,388.88 L483.20,389.60 L483.00,390.33 L482.75,391.05 L482.47,391.78 L482.16,392.50 L481.82,393.23 L481.46,393.95 L481.08,394.68 L480.70,395.40 L480.29,396.13 L479.86,396.85 L479.40,397.58 L478.92,398.31 L478.44,399.03 L477.95,399.76 L477.47,400.48 L477.00,401.20 L476.53,401.93 L476.04,402.68 L475.55,403.44 L475.06,404.19 L474.58,404.93 L474.13,405.63 L473.70,406.29 L473.30,406.90 L472.95,407.44 L472.63,407.93 L472.33,408.37 L472.06,408.79 L471.80,409.18 L471.54,409.58 L471.28,409.98 L471.00,410.40 L423.60,410.40 L423.32,409.98 L423.06,409.58 L422.80,409.18 L422.54,408.79 L422.27,408.37 L421.97,407.93 L421.65,407.44 L421.30,406.90 L420.90,406.29 L420.47,405.63 L420.02,404.93 L419.54,404.19 L419.05,403.44 L418.56,402.68 L418.07,401.93 L417.60,401.20 L417.13,400.48 L416.65,399.76 L416.16,399.03 L415.68,398.31 L415.20,397.58 L414.74,396.85 L414.31,396.13 L413.90,395.40 L413.52,394.68 L413.14,393.95 L412.78,393.23 L412.44,392.50 L412.13,391.78 L411.85,391.05 L411.60,390.33 L411.40,389.60 L411.24,388.88 L411.11,388.15 L411.01,387.43 L410.95,386.70 L410.92,385.98 L410.92,385.25 L410.94,384.53 L411.00,383.80 L411.08,383.07 L411.19,382.35 L411.34,381.62 L411.51,380.89 L411.71,380.17 L411.94,379.44 L412.20,378.72 L412.50,378.00 L412.83,377.28 L413.21,376.57 L413.62,375.86 L414.06,375.15 L414.53,374.44 L415.01,373.73 L415.50,373.02 L416.00,372.30 L416.52,371.57 L417.08,370.81 L417.66,370.04 L418.26,369.28 L418.85,368.53 L419.43,367.80 L419.98,367.13 L420.50,366.50 L420.98,365.94 L421.43,365.43 L421.86,364.96 L422.27,364.52 L422.67,364.10 L423.08,363.68 L423.48,363.25 L423.90,362.80 Z" fill="#00ffff" stroke="#0a2a3a" stroke-width="1.25" stroke-linejoin="round"/><line x1="357.5" y1="287.2" x2="357.5" y2="482.4" stroke="#000" stroke-width="1"/><rect x="355.45" y="318" width="4.1" height="28" fill="#000"/><circle cx="357.5" cy="327.4" r="2" fill="#fff"/><line x1="447.6" y1="362.8" x2="447.6" y2="410.4" stroke="#000" stroke-width="1"/><rect x="445.20000000000005" y="378" width="4.8" height="17.5" fill="#000"/><circle cx="447.6" cy="386.9" r="2" fill="#fff"/><line x1="304.8" y1="283.5" x2="304.8" y2="482.5" stroke="#909090" stroke-width="1.2"/><line x1="299.40000000000003" y1="482.5" x2="305.5" y2="482.5" stroke="#909090" stroke-width="1.2"/><text x="295.2" y="486.5" text-anchor="end" font-size="10" font-family="Liberation Sans, sans-serif" font-weight="bold" fill="#111">50</text><line x1="299.40000000000003" y1="442.5" x2="305.5" y2="442.5" stroke="#909090" stroke-width="1.2"/><text x="295.2" y="446.5" text-anchor="end" font-size="10" font-family="Liberation Sans, sans-serif" font-weight="bold" fill="#111">60</text><line x1="299.40000000000003" y1="402.6" x2="305.5" y2="402.6" stroke="#909090" stroke-width="1.2"/><text x="295.2" y="406.6" text-anchor="end" font-size="10" font-family="Liberation Sans, sans-serif" font-weight="bold" fill="#111">70</text><line x1="299.40000000000003" y1="362.8" x2="305.5" y2="362.8" stroke="#909090" stroke-width="1.2"/><text x="295.2" y="366.8" text-anchor="end" font-size="10" font-family="Liberation Sans, sans-serif" font-weight="bold" fill="#111">80</text><line x1="299.40000000000003" y1="323" x2="305.5" y2="323" stroke="#909090" stroke-width="1.2"/><text x="295.2" y="327.0" text-anchor="end" font-size="10" font-family="Liberation Sans, sans-serif" font-weight="bold" fill="#111">90</text><line x1="299.40000000000003" y1="283.5" x2="305.5" y2="283.5" stroke="#909090" stroke-width="1.2"/><text x="295.2" y="287.5" text-anchor="end" font-size="10" font-family="Liberation Sans, sans-serif" font-weight="bold" fill="#111">100</text><text transform="translate(273.4,382.9) rotate(-90)" text-anchor="middle" font-size="12" font-family="Liberation Sans, sans-serif" font-weight="bold" fill="#111">O2 saturation nadir</text><text x="259.2" y="278.5" font-size="25" font-family="Liberation Sans, sans-serif" font-weight="bold" fill="#000">D</text><text x="407" y="295.7" font-size="12" font-family="Liberation Sans, sans-serif" font-weight="bold" fill="#000">P = 0.007</text><rect x="406.1" y="461.70000000000005" width="4.7" height="4.8" fill="#1414c4"/><rect x="406.1" y="474.5" width="4.7" height="4.8" fill="#30e6e0"/><text x="418.4" y="468.70000000000005" font-size="10.8" font-family="Liberation Sans, sans-serif" font-weight="bold" fill="#111">Normal TCD</text><text x="418.4" y="481.4" font-size="10.8" font-family="Liberation Sans, sans-serif" font-weight="bold" fill="#111">Abnormal TCD</text><circle cx="101.5" cy="27.7" r="1.75" fill="#e2d478"/><circle cx="93.4" cy="81.9" r="1.75" fill="#e2d478"/><circle cx="93.4" cy="126.3" r="1.75" fill="#e2d478"/><circle cx="363.2" cy="28.0" r="1.75" fill="#e2d478"/><circle cx="351.6" cy="106.5" r="1.75" fill="#e2d478"/><circle cx="348.5" cy="132.1" r="1.75" fill="#e2d478"/><circle cx="352.8" cy="145.4" r="1.75" fill="#e2d478"/><circle cx="348.4" cy="410.8" r="1.75" fill="#e2d478"/><circle cx="350.7" cy="474.3" r="1.75" fill="#e2d478"/><circle cx="354.0" cy="482.4" r="1.75" fill="#e2d478"/><circle cx="96.8" cy="153.4" r="2.0" fill="#f5c93e"/><circle cx="93.6" cy="159.0" r="2.0" fill="#f5c93e"/><circle cx="99.5" cy="162.9" r="2.0" fill="#f5c93e"/><circle cx="99.9" cy="180.2" r="2.0" fill="#f5c93e"/><circle cx="100.1" cy="181.0" r="2.0" fill="#f5c93e"/><circle cx="97.1" cy="186.2" r="2.0" fill="#f5c93e"/><circle cx="104.0" cy="187.8" r="2.0" fill="#f5c93e"/><circle cx="100.1" cy="191.1" r="2.0" fill="#f5c93e"/><circle cx="88.9" cy="192.1" r="2.0" fill="#f5c93e"/><circle cx="90.6" cy="196.9" r="2.0" fill="#f5c93e"/><circle cx="93.2" cy="198.2" r="2.0" fill="#f5c93e"/><circle cx="97.5" cy="200.8" r="2.0" fill="#f5c93e"/><circle cx="89.3" cy="201.6" r="2.0" fill="#f5c93e"/><circle cx="103.6" cy="201.2" r="2.0" fill="#f5c93e"/><circle cx="104.9" cy="204.7" r="2.0" fill="#f5c93e"/><circle cx="92.8" cy="205.5" r="2.0" fill="#f5c93e"/><circle cx="91.5" cy="207.2" r="2.0" fill="#f5c93e"/><circle cx="104.0" cy="210.3" r="2.0" fill="#f5c93e"/><circle cx="103.6" cy="212.9" r="2.0" fill="#f5c93e"/><circle cx="96.2" cy="214.6" r="2.0" fill="#f5c93e"/><circle cx="90.2" cy="216.3" r="2.0" fill="#f5c93e"/><circle cx="93.7" cy="216.3" r="2.0" fill="#f5c93e"/><circle cx="91.9" cy="218.5" r="2.0" fill="#f5c93e"/><circle cx="95.4" cy="218.0" r="2.0" fill="#f5c93e"/><circle cx="89.3" cy="219.8" r="2.0" fill="#f5c93e"/><circle cx="102.3" cy="214.6" r="2.0" fill="#f5c93e"/><circle cx="104.5" cy="216.3" r="2.0" fill="#f5c93e"/><circle cx="102.3" cy="218.0" r="2.0" fill="#f5c93e"/><circle cx="103.6" cy="220.2" r="2.0" fill="#f5c93e"/><circle cx="101.4" cy="220.7" r="2.0" fill="#f5c93e"/><circle cx="98.4" cy="220.2" r="2.0" fill="#f5c93e"/><circle cx="92.0" cy="221.0" r="2.0" fill="#f5c93e"/><circle cx="105.5" cy="221.0" r="2.0" fill="#f5c93e"/><circle cx="355.3" cy="113.5" r="2.0" fill="#f5c93e"/><circle cx="359.2" cy="111.2" r="2.0" fill="#f5c93e"/><circle cx="353.3" cy="162.7" r="2.0" fill="#f5c93e"/><circle cx="355.2" cy="164.6" r="2.0" fill="#f5c93e"/><circle cx="349.9" cy="180.6" r="2.0" fill="#f5c93e"/><circle cx="357.6" cy="181.5" r="2.0" fill="#f5c93e"/><circle cx="365.8" cy="183.2" r="2.0" fill="#f5c93e"/><circle cx="348.5" cy="187.5" r="2.0" fill="#f5c93e"/><circle cx="351.8" cy="187.5" r="2.0" fill="#f5c93e"/><circle cx="355.7" cy="189.4" r="2.0" fill="#f5c93e"/><circle cx="349.9" cy="195.7" r="2.0" fill="#f5c93e"/><circle cx="358.6" cy="195.7" r="2.0" fill="#f5c93e"/><circle cx="362.9" cy="194.7" r="2.0" fill="#f5c93e"/><circle cx="349.4" cy="198.6" r="2.0" fill="#f5c93e"/><circle cx="351.8" cy="197.6" r="2.0" fill="#f5c93e"/><circle cx="352.8" cy="203.4" r="2.0" fill="#f5c93e"/><circle cx="364.8" cy="201.0" r="2.0" fill="#f5c93e"/><circle cx="365.8" cy="203.8" r="2.0" fill="#f5c93e"/><circle cx="358.6" cy="204.8" r="2.0" fill="#f5c93e"/><circle cx="351.3" cy="206.7" r="2.0" fill="#f5c93e"/><circle cx="357.1" cy="207.2" r="2.0" fill="#f5c93e"/><circle cx="352.3" cy="210.6" r="2.0" fill="#f5c93e"/><circle cx="361.0" cy="210.1" r="2.0" fill="#f5c93e"/><circle cx="351.8" cy="212.0" r="2.0" fill="#f5c93e"/><circle cx="354.7" cy="215.4" r="2.0" fill="#f5c93e"/><circle cx="360.0" cy="214.9" r="2.0" fill="#f5c93e"/><circle cx="364.8" cy="216.3" r="2.0" fill="#f5c93e"/><circle cx="353.8" cy="218.3" r="2.0" fill="#f5c93e"/><circle cx="358.0" cy="217.8" r="2.0" fill="#f5c93e"/><circle cx="363.8" cy="219.2" r="2.0" fill="#f5c93e"/><circle cx="350.4" cy="221.2" r="2.0" fill="#f5c93e"/><circle cx="355.7" cy="220.7" r="2.0" fill="#f5c93e"/><circle cx="361.9" cy="220.7" r="2.0" fill="#f5c93e"/><circle cx="95.2" cy="309.2" r="2.0" fill="#f5c93e"/><circle cx="101.0" cy="330.4" r="2.0" fill="#f5c93e"/><circle cx="94.8" cy="351.0" r="2.0" fill="#f5c93e"/><circle cx="90.8" cy="359.2" r="2.0" fill="#f5c93e"/><circle cx="99.0" cy="364.4" r="2.0" fill="#f5c93e"/><circle cx="93.8" cy="370.8" r="2.0" fill="#f5c93e"/><circle cx="99.0" cy="370.8" r="2.0" fill="#f5c93e"/><circle cx="95.2" cy="373.5" r="2.0" fill="#f5c93e"/><circle cx="94.9" cy="375.5" r="2.0" fill="#f5c93e"/><circle cx="91.0" cy="401.0" r="2.0" fill="#f5c93e"/><circle cx="94.9" cy="403.5" r="2.0" fill="#f5c93e"/><circle cx="101.0" cy="399.4" r="2.0" fill="#f5c93e"/><circle cx="104.8" cy="401.6" r="2.0" fill="#f5c93e"/><circle cx="90.6" cy="408.7" r="2.0" fill="#f5c93e"/><circle cx="93.2" cy="418.3" r="2.0" fill="#f5c93e"/><circle cx="101.4" cy="417.4" r="2.0" fill="#f5c93e"/><circle cx="93.2" cy="418.9" r="2.0" fill="#f5c93e"/><circle cx="91.4" cy="421.1" r="2.0" fill="#f5c93e"/><circle cx="90.6" cy="423.7" r="2.0" fill="#f5c93e"/><circle cx="101.4" cy="417.2" r="2.0" fill="#f5c93e"/><circle cx="100.1" cy="423.7" r="2.0" fill="#f5c93e"/><circle cx="101.8" cy="422.8" r="2.0" fill="#f5c93e"/><circle cx="101.0" cy="432.3" r="2.0" fill="#f5c93e"/><circle cx="90.6" cy="432.3" r="2.0" fill="#f5c93e"/><circle cx="91.9" cy="434.5" r="2.0" fill="#f5c93e"/><circle cx="88.8" cy="437.1" r="2.0" fill="#f5c93e"/><circle cx="90.1" cy="438.8" r="2.0" fill="#f5c93e"/><circle cx="92.3" cy="439.7" r="2.0" fill="#f5c93e"/><circle cx="96.2" cy="445.3" r="2.0" fill="#f5c93e"/><circle cx="99.7" cy="442.7" r="2.0" fill="#f5c93e"/><circle cx="101.0" cy="445.3" r="2.0" fill="#f5c93e"/><circle cx="101.8" cy="447.0" r="2.0" fill="#f5c93e"/><circle cx="105.7" cy="447.4" r="2.0" fill="#f5c93e"/><circle cx="99.2" cy="449.2" r="2.0" fill="#f5c93e"/><circle cx="103.5" cy="450.5" r="2.0" fill="#f5c93e"/><circle cx="105.7" cy="452.2" r="2.0" fill="#f5c93e"/><circle cx="92.3" cy="453.1" r="2.0" fill="#f5c93e"/><circle cx="101.8" cy="453.5" r="2.0" fill="#f5c93e"/><circle cx="91.9" cy="453.7" r="2.0" fill="#f5c93e"/><circle cx="93.6" cy="455.4" r="2.0" fill="#f5c93e"/><circle cx="92.3" cy="458.4" r="2.0" fill="#f5c93e"/><circle cx="94.9" cy="459.3" r="2.0" fill="#f5c93e"/><circle cx="98.4" cy="459.7" r="2.0" fill="#f5c93e"/><circle cx="99.7" cy="457.1" r="2.0" fill="#f5c93e"/><circle cx="101.0" cy="454.5" r="2.0" fill="#f5c93e"/><circle cx="105.7" cy="447.6" r="2.0" fill="#f5c93e"/><circle cx="106.1" cy="452.4" r="2.0" fill="#f5c93e"/><circle cx="96.6" cy="465.3" r="2.0" fill="#f5c93e"/><circle cx="101.8" cy="464.9" r="2.0" fill="#f5c93e"/><circle cx="104.4" cy="467.9" r="2.0" fill="#f5c93e"/><circle cx="106.1" cy="470.5" r="2.0" fill="#f5c93e"/><circle cx="92.3" cy="472.2" r="2.0" fill="#f5c93e"/><circle cx="100.5" cy="477.0" r="2.0" fill="#f5c93e"/><circle cx="105.3" cy="480.0" r="2.0" fill="#f5c93e"/><circle cx="94.5" cy="482.2" r="2.0" fill="#f5c93e"/><circle cx="351.0" cy="287.3" r="2.0" fill="#f5c93e"/><circle cx="355.8" cy="287.3" r="2.0" fill="#f5c93e"/><circle cx="365.3" cy="291.2" r="2.0" fill="#f5c93e"/><circle cx="359.7" cy="299.4" r="2.0" fill="#f5c93e"/><circle cx="360.1" cy="303.3" r="2.0" fill="#f5c93e"/><circle cx="354.5" cy="307.2" r="2.0" fill="#f5c93e"/><circle cx="357.5" cy="307.2" r="2.0" fill="#f5c93e"/><circle cx="361.0" cy="307.2" r="2.0" fill="#f5c93e"/><circle cx="365.7" cy="307.2" r="2.0" fill="#f5c93e"/><circle cx="351.0" cy="311.1" r="2.0" fill="#f5c93e"/><circle cx="358.4" cy="311.1" r="2.0" fill="#f5c93e"/><circle cx="361.0" cy="312.4" r="2.0" fill="#f5c93e"/><circle cx="354.0" cy="315.0" r="2.0" fill="#f5c93e"/><circle cx="356.6" cy="315.4" r="2.0" fill="#f5c93e"/><circle cx="363.5" cy="315.0" r="2.0" fill="#f5c93e"/><circle cx="349.7" cy="319.3" r="2.0" fill="#f5c93e"/><circle cx="358.4" cy="319.3" r="2.0" fill="#f5c93e"/><circle cx="364.4" cy="323.2" r="2.0" fill="#f5c93e"/><circle cx="350.1" cy="326.7" r="2.0" fill="#f5c93e"/><circle cx="354.5" cy="326.7" r="2.0" fill="#f5c93e"/><circle cx="358.8" cy="326.7" r="2.0" fill="#f5c93e"/><circle cx="350.0" cy="320.5" r="2.0" fill="#f5c93e"/><circle cx="358.4" cy="320.4" r="2.0" fill="#f5c93e"/><circle cx="364.4" cy="323.5" r="2.0" fill="#f5c93e"/><circle cx="350.1" cy="327.4" r="2.0" fill="#f5c93e"/><circle cx="353.6" cy="327.4" r="2.0" fill="#f5c93e"/><circle cx="359.2" cy="327.4" r="2.0" fill="#f5c93e"/><circle cx="361.8" cy="327.4" r="2.0" fill="#f5c93e"/><circle cx="357.1" cy="331.2" r="2.0" fill="#f5c93e"/><circle cx="362.2" cy="331.2" r="2.0" fill="#f5c93e"/><circle cx="358.4" cy="335.1" r="2.0" fill="#f5c93e"/><circle cx="354.5" cy="339.0" r="2.0" fill="#f5c93e"/><circle cx="361.4" cy="339.0" r="2.0" fill="#f5c93e"/><circle cx="360.1" cy="342.9" r="2.0" fill="#f5c93e"/><circle cx="362.2" cy="343.4" r="2.0" fill="#f5c93e"/><circle cx="350.1" cy="346.8" r="2.0" fill="#f5c93e"/><circle cx="356.2" cy="346.8" r="2.0" fill="#f5c93e"/><circle cx="361.4" cy="346.8" r="2.0" fill="#f5c93e"/><circle cx="357.9" cy="350.7" r="2.0" fill="#f5c93e"/><circle cx="351.9" cy="358.9" r="2.0" fill="#f5c93e"/><circle cx="354.5" cy="362.8" r="2.0" fill="#f5c93e"/><circle cx="362.1" cy="367.2" r="2.0" fill="#f5c93e"/><circle cx="352.8" cy="375.0" r="2.0" fill="#f5c93e"/><circle cx="350.2" cy="383.1" r="2.0" fill="#f5c93e"/><circle cx="354.6" cy="410.8" r="2.0" fill="#f5c93e"/><circle cx="194.7" cy="79.6" r="1.6" fill="#d6d85a"/><circle cx="195.4" cy="93.5" r="1.6" fill="#d6d85a"/><circle cx="192.7" cy="117.3" r="1.6" fill="#d6d85a"/><circle cx="179.7" cy="168.5" r="1.6" fill="#d6d85a"/><circle cx="441.8" cy="38.3" r="1.6" fill="#d6d85a"/><circle cx="441.9" cy="117.7" r="1.6" fill="#d6d85a"/><circle cx="454.8" cy="136.5" r="1.6" fill="#d6d85a"/><circle cx="455.8" cy="190.4" r="1.6" fill="#d6d85a"/><circle cx="179.8" cy="287.5" r="1.6" fill="#d6d85a"/><circle cx="189.0" cy="372.4" r="1.6" fill="#d6d85a"/><circle cx="195.0" cy="390.0" r="1.6" fill="#d6d85a"/><circle cx="195.4" cy="399.3" r="1.6" fill="#d6d85a"/><circle cx="452.0" cy="362.7" r="1.6" fill="#d6d85a"/><circle cx="448.3" cy="382.8" r="1.6" fill="#d6d85a"/><circle cx="441.0" cy="390.6" r="1.6" fill="#d6d85a"/><circle cx="445.9" cy="411.4" r="1.6" fill="#d6d85a"/><circle cx="97.2" cy="212.9" r="1.9" fill="#fff"/><circle cx="187.2" cy="105.3" r="1.9" fill="#fff"/><circle cx="357.6" cy="207.2" r="1.9" fill="#fff"/><circle cx="447.1" cy="126.9" r="1.9" fill="#fff"/><circle cx="97.3" cy="441" r="1.9" fill="#fff"/><circle cx="187.5" cy="381.6" r="1.9" fill="#fff"/><circle cx="356.6" cy="327.4" r="1.9" fill="#fff"/><circle cx="447.5" cy="386.9" r="1.9" fill="#fff"/></svg></body></html>
